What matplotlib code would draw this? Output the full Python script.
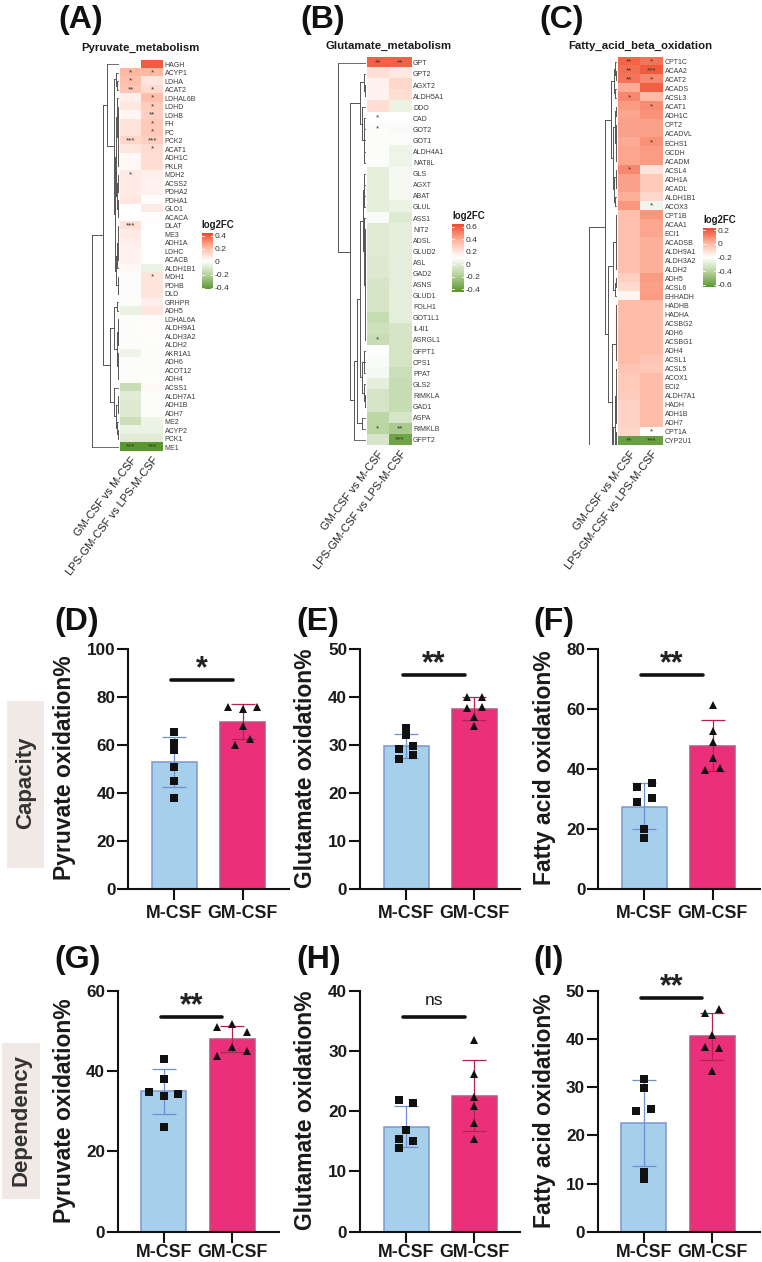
import matplotlib
matplotlib.use("Agg")
import matplotlib.pyplot as plt
from matplotlib.colors import LinearSegmentedColormap
from matplotlib.transforms import ScaledTranslation
import numpy as np

plt.rcParams['font.family'] = ['Liberation Sans', 'DejaVu Sans']

W, H = 762, 1262

# heatmap columns
contrasts = ["GM-CSF vs M-CSF", "LPS-GM-CSF vs LPS-M-CSF"]

# pyruvate metabolism
genes_a = ["HAGH", "ACYP1", "LDHA", "ACAT2", "LDHAL6B", "LDHD", "LDHB", "FH", "PC", "PCK2", "ACAT1", "ADH1C",
           "PKLR", "MDH2", "ACSS2", "PDHA2", "PDHA1", "GLO1", "ACACA", "DLAT", "ME3", "ADH1A", "LDHC", "ACACB",
           "ALDH1B1", "MDH1", "PDHB", "DLD", "GRHPR", "ADH5", "LDHAL6A", "ALDH9A1", "ALDH3A2", "ALDH2", "AKR1A1",
           "ADH6", "ACOT12", "ADH4", "ACSS1", "ALDH7A1", "ADH1B", "ADH7", "ME2", "ACYP2", "PCK1", "ME1"]
lfc_a1 = [0.0, 0.22, 0.2, 0.18, 0.06, 0.08, 0.04, 0.09, 0.09, 0.13, 0.08, 0.03,
          0.03, 0.07, 0.07, 0.07, 0.08, 0.01, 0.01, 0.1, 0.07, 0.06, 0.05, 0.05,
          0.03, 0.0, 0.0, 0.0, 0.0, -0.05, 0.0, 0.0, 0.0, 0.0, -0.04,
          0.0, 0.0, 0.0, -0.15, -0.08, -0.09, -0.09, -0.14, -0.05, -0.08, -0.42]
lfc_a2 = [0.4, 0.22, 0.08, 0.12, 0.2, 0.16, 0.15, 0.17, 0.17, 0.15, 0.12, 0.11,
          0.11, 0.06, 0.05, 0.05, 0.02, 0.07, 0.02, 0.01, 0.01, 0.01, 0.01, 0.01,
          -0.05, 0.09, 0.09, 0.09, 0.06, 0.08, 0.02, 0.015, 0.015, 0.0, 0.0,
          0.0, 0.0, 0.005, 0.03, 0.0, 0.0, 0.0, -0.04, -0.05, -0.08, -0.42]
stars_a1 = {"ACYP1": "*", "LDHA": "*", "ACAT2": "**", "PCK2": "***", "MDH2": "*", "DLAT": "***", "ME1": "***"}
stars_a2 = {"ACYP1": "*", "ACAT2": "*", "LDHAL6B": "*", "LDHD": "*", "LDHB": "**", "FH": "*", "PC": "*",
            "PCK2": "***", "ACAT1": "*", "MDH1": "*", "ME1": "***"}

# glutamate metabolism
genes_b = ["GPT", "GPT2", "AGXT2", "ALDH5A1", "DDO", "CAD", "GOT2", "GOT1", "ALDH4A1", "NAT8L", "GLS", "AGXT",
           "ABAT", "GLUL", "ASS1", "NIT2", "ADSL", "GLUD2", "ASL", "GAD2", "ASNS", "GLUD1", "FOLH1", "GOT1L1",
           "IL4I1", "ASRGL1", "GFPT1", "CPS1", "PPAT", "GLS2", "RIMKLA", "GAD1", "ASPA", "RIMKLB", "GFPT2"]
lfc_b1 = [0.58, 0.22, 0.15, 0.15, 0.22, 0.1, 0.09, 0.09, 0.09, 0.09, 0.0, 0.0,
          0.0, 0.0, 0.08, -0.02, -0.02, -0.02, -0.03, -0.03, -0.05, -0.06, -0.06, -0.11,
          -0.08, -0.1, 0.1, 0.08, 0.07, 0.0, -0.05, -0.05, -0.14, -0.15, -0.05]
lfc_b2 = [0.58, 0.18, 0.25, 0.22, 0.03, 0.1, 0.08, 0.09, 0.04, 0.04, 0.07, 0.06,
          0.06, 0.03, -0.02, 0.0, 0.0, 0.0, 0.0, 0.0, 0.0, 0.0, 0.0, 0.0,
          -0.05, -0.06, -0.06, -0.06, -0.09, -0.11, -0.11, -0.11, -0.05, -0.2, -0.38]
stars_b1 = {"GPT": "**", "CAD": "*", "GOT2": "*", "ASRGL1": "*", "RIMKLB": "*"}
stars_b2 = {"GPT": "**", "RIMKLB": "**", "GFPT2": "***"}

# fatty acid beta oxidation
genes_c = ["CPT1C", "ACAA2", "ACAT2", "ACADS", "ACSL3", "ACAT1", "ADH1C", "CPT2", "ACADVL", "ECHS1", "GCDH",
           "ACADM", "ACSL4", "ADH1A", "ACADL", "ALDH1B1", "ACOX3", "CPT1B", "ACAA1", "ECI1", "ACADSB", "ALDH9A1",
           "ALDH3A2", "ALDH2", "ADH5", "ACSL6", "EHHADH", "HADHB", "HADHA", "ACSBG2", "ADH6", "ACSBG1", "ADH4",
           "ACSL1", "ACSL5", "ACOX1", "ECI2", "ALDH7A1", "HADH", "ADH1B", "ADH7", "CPT1A", "CYP2U1"]
lfc_c1 = [0.18, 0.16, 0.15, 0.04, 0.11, 0.07, 0.05, 0.06, 0.06, 0.04, 0.05,
          0.05, 0.11, 0.06, 0.06, 0.03, 0.08, -0.01, -0.01, -0.01, -0.01, -0.01,
          -0.01, -0.01, -0.06, -0.09, -0.17, 0.0, 0.0, 0.0, 0.0, 0.0, 0.0,
          0.0, -0.03, -0.04, -0.04, -0.05, -0.07, -0.07, -0.07, -0.08, -0.6]
lfc_c2 = [0.15, 0.2, 0.11, 0.19, 0.01, 0.1, 0.09, 0.06, 0.06, 0.09, 0.07,
          0.07, -0.12, -0.04, -0.04, -0.08, -0.24, 0.08, 0.05, 0.05, 0.03, 0.03,
          0.03, 0.03, 0.07, 0.06, 0.07, 0.0, 0.0, 0.0, 0.0, 0.0, 0.0,
          -0.03, -0.04, 0.0, 0.0, 0.0, 0.0, 0.0, 0.0, -0.2, -0.6]
stars_c1 = {"CPT1C": "**", "ACAA2": "**", "ACAT2": "**", "ACSL3": "*", "ACSL4": "*", "CYP2U1": "**"}
stars_c2 = {"CPT1C": "*", "ACAA2": "***", "ACAT2": "*", "ACAT1": "*", "ECHS1": "*", "ACOX3": "*", "CPT1A": "*",
            "CYP2U1": "***"}

# cluster trees: (merge height, child, child, ...), an int child is that many leaves
tree_a = (1.0,
          (0.6,
           (0.46, 1,
            (0.2,
             (0.12, 1, (0.06, 2)),
             (0.15,
              (0.1, (0.07, 1, (0.05, 8)), (0.06, (0.04, 3), (0.04, 3))),
              (0.12, (0.07, (0.04, 5), 1), (0.05, 3))))),
           (0.33,
            (0.18, (0.08, 2), (0.08, (0.05, 4), (0.05, 4))),
            (0.17, 1, (0.1, (0.05, 3), (0.07, 1, (0.03, 2)))))),
          1)
tree_b = (1.0, 1,
          (0.56,
           (0.2, (0.07, 1, (0.04, 2)), (0.12, 1, (0.05, 5))),
           (0.42,
            (0.3,
             (0.21,
              (0.1, (0.05, 4), (0.07, 1, (0.04, 11))),
              (0.12, (0.07, 3), (0.07, 1, (0.03, 2)))),
             (0.12, 2)),
            1)))
tree_c = (1.0,
          (0.44,
           (0.23,
            (0.12, (0.07, 1, (0.04, 2)), (0.08, 2)),
            (0.16, (0.08, (0.05, 2), (0.04, 5)), (0.13, (0.06, 1, (0.04, 2)), (0.08, 2)))),
           (0.32,
            (0.14, (0.05, 7), (0.1, (0.05, 2), 1)),
            (0.18, (0.06, (0.03, 6), 1), (0.17, (0.09, (0.04, 7), (0.05, 7)), 1)))),
          1)

# bar panels: mean, lower and upper error bar end, replicates and their swarm slots
groups = ["M-CSF", "GM-CSF"]

means_d = [53, 69.7]
low_d = [42.7, 62.7]
high_d = [63.5, 77]
pts_d1 = [65.5, 61, 58, 51, 45, 38]
pts_d2 = [76, 76, 75, 68, 62.5, 60]
slots_d1 = [0, 0, 0, 0, 0, 0]
slots_d2 = [-2, 2, 0, 0, 1, -1]

means_e = [29.8, 37.6]
low_e = [27.3, 35.3]
high_e = [32.3, 40]
pts_e1 = [33.5, 32, 29.7, 29.1, 28, 27]
pts_e2 = [39.9, 40, 37.8, 38, 35.9, 34]
slots_e1 = [0, 0, 1, -1, 1, -1]
slots_e2 = [-1, 1, -1, 1, 0, 0]

means_f = [27.5, 47.8]
low_f = [20, 39.5]
high_f = [35.3, 56.3]
pts_f1 = [35.5, 33.9, 30.4, 28.9, 20, 17]
pts_f2 = [61.3, 52.8, 48.9, 43.6, 40.2, 39.7]
slots_f1 = [1, -1, 1, -1, 0, 0]
slots_f2 = [0, 0, 0, 0, 1, -1]

means_g = [35, 48]
low_g = [29.4, 44.7]
high_g = [40.6, 51.3]
pts_g1 = [42.9, 37.9, 34.9, 34.4, 33.9, 26]
pts_g2 = [51.6, 50.9, 49.8, 46.1, 44.9, 43.8]
slots_g1 = [0, 0, -2, 2, 0, 0]
slots_g2 = [0, -2, 2, 0, 2, -2]

means_h = [17.4, 22.5]
low_h = [14, 16.7]
high_h = [20.8, 28.5]
pts_h1 = [21.9, 21.3, 16.8, 15.4, 15, 13.9]
pts_h2 = [31.8, 26.2, 22.4, 20.9, 18, 15.4]
slots_h1 = [-1, 1, 0, -1, 1, -1]
slots_h2 = [0, 0, 0, 0, 0, 0]

means_i = [22.5, 40.5]
low_i = [13.6, 35.7]
high_i = [31.5, 45.3]
pts_i1 = [31.7, 29.9, 25.4, 25, 12.4, 11]
pts_i2 = [46.1, 45.4, 40.9, 38.1, 38.4, 33.3]
slots_i1 = [0, 0, 1, -1, 0, 0]
slots_i2 = [1, -1, 0, 1, -1, 0]

GREEN = "#5a962f"
RED = "#ee4a2c"
BLUE = "#a6cfec"
BLUE_EDGE = "#7b97d0"
BLUE_ERR = "#6f8fd0"
PINK = "#ec2f7a"
PINK_EDGE = "#b8557f"
PINK_ERR = "#b3234f"
TEXT = "#1a1a1a"

cmap = LinearSegmentedColormap.from_list(
    "lfc", [(0, GREEN), (0.25, "#b6d29c"), (0.5, "#ffffff"), (0.75, "#ffb7a1"), (1, RED)])

fig = plt.figure(figsize=(W / 100, H / 100), dpi=100)


def px_axes(left, top, right, bottom):
    return fig.add_axes([left / W, 1 - bottom / H, (right - left) / W, (bottom - top) / H])


def px_text(x, y, s, **kw):
    kw.setdefault("ha", "center")
    kw.setdefault("va", "center")
    return fig.text(x / W, 1 - y / H, s, **kw)


def shift_labels(labels, dx_px):
    # nudge tick labels sideways by some pixels
    offset = ScaledTranslation(dx_px / 100, 0, fig.dpi_scale_trans)
    for lab in labels:
        lab.set_transform(lab.get_transform() + offset)


def draw_tree(ax, node, next_leaf):
    # returns the y of the node and the height its stem starts from
    children = node[1:]
    ys = []
    for child in children:
        if isinstance(child, tuple):
            y, h = draw_tree(ax, child, next_leaf)
        else:
            for _ in range(child):
                ys.append(next_leaf[0])
                ax.plot([0, node[0]], [next_leaf[0]] * 2, color="#555555", lw=0.6, solid_capstyle="butt")
                next_leaf[0] += 1
            continue
        ys.append(y)
        ax.plot([h, node[0]], [y, y], color="#555555", lw=0.7, solid_capstyle="butt")
    ax.plot([node[0], node[0]], [ys[0], ys[-1]], color="#555555", lw=0.7)
    return (ys[0] + ys[-1]) / 2, node[0]


def heatmap_panel(box, dendro_left, title, title_pos, genes, col1, col2, stars1, stars2, tree,
                  vmin, vmax, cbar_box, cbar_ticks, legend_pos):
    left, top, right, bottom = box
    ax = px_axes(left, top, right, bottom)
    data = np.array([col1, col2]).T
    im = ax.imshow(data, cmap=cmap, vmin=vmin, vmax=vmax, aspect="auto", interpolation="nearest")
    for sp in ax.spines.values():
        sp.set_visible(False)
    ax.set_yticks(range(len(genes)))
    ax.yaxis.tick_right()
    ax.set_yticklabels(genes, fontsize=5.0, color="#3a3a3a")
    ax.set_xticks([0, 1])
    ax.set_xticklabels(contrasts, rotation=53, ha="right", rotation_mode="anchor", fontsize=8, color="#222222")
    shift_labels(ax.get_xticklabels(), -3)
    ax.tick_params(length=0, axis="y", pad=1.5)
    ax.tick_params(length=0, axis="x", pad=3)
    for col, stars in enumerate([stars1, stars2]):
        for gene, mark in stars.items():
            ax.text(col, genes.index(gene), mark, ha="center", va="center", fontsize=5.8, color="#333333")
    px_text(title_pos[0], title_pos[1], title, fontsize=8.2, fontweight="bold", color=TEXT)

    dax = px_axes(dendro_left, top, left - 1, bottom)
    draw_tree(dax, tree, [0])
    dax.set_xlim(1.0, 0)
    dax.set_ylim(len(genes) - 0.5, -0.5)
    dax.axis("off")

    cax = px_axes(*cbar_box)
    cbar = fig.colorbar(im, cax=cax)
    cbar.outline.set_visible(False)
    cbar.set_ticks(cbar_ticks)
    cbar.set_ticklabels([f"{t:g}" for t in cbar_ticks])
    cax.tick_params(length=0, labelsize=6.1, pad=1.5, labelcolor="#333333")
    for t in cbar_ticks:
        cax.plot([0, 0.18], [t, t], color="white", lw=0.6, transform=cax.get_yaxis_transform())
        cax.plot([0.82, 1], [t, t], color="white", lw=0.6, transform=cax.get_yaxis_transform())
    px_text(legend_pos[0], legend_pos[1], "log2FC", fontsize=6.9, fontweight="bold", color=TEXT)


heatmap_panel((120, 60, 162.7, 451.3), 92.3, "Pyruvate_metabolism", (140.8, 48), genes_a, lfc_a1, lfc_a2,
              stars_a1, stars_a2, tree_a, -0.42, 0.44, (202, 233, 213, 289),
              [-0.4, -0.2, 0, 0.2, 0.4], (218, 225))
heatmap_panel((366.7, 57.3, 411, 445.3), 337.7, "Glutamate_metabolism", (388.8, 46), genes_b, lfc_b1, lfc_b2,
              stars_b1, stars_b2, tree_b, -0.44, 0.64, (451.7, 224, 464, 291.7),
              [-0.4, -0.2, 0, 0.2, 0.4, 0.6], (468.7, 216))
heatmap_panel((618.3, 57.3, 662.7, 445.3), 589.3, "Fatty_acid_beta_oxidation", (640.5, 46), genes_c, lfc_c1, lfc_c2,
              stars_c1, stars_c2, tree_c, -0.635, 0.235, (703, 228, 716, 287),
              [-0.6, -0.4, -0.2, 0, 0.2], (720, 220))

# spacing of the two bars in pixels, first bar centre from the y axis, bar width
BAR_STEP = 68.3
BAR_START = 46
BAR_WIDTH = 45 / BAR_STEP
SLOT = 7.3 / BAR_STEP


def bar_panel(box, ymax, yticks, ylabel, ylabel_x, means, low, high, pts1, pts2, slots1, slots2, sig, sig_y, xpad=4):
    left, top, right, bottom = box
    ax = px_axes(left, top, right, bottom)
    width = right - left
    ax.set_xlim(-BAR_START / BAR_STEP, (width - BAR_START) / BAR_STEP)
    ax.set_ylim(0, ymax)
    ax.bar([0, 1], means, width=BAR_WIDTH, color=[BLUE, PINK], edgecolor=[BLUE_EDGE, PINK_EDGE], linewidth=1.1, zorder=2)
    for i, err_color in enumerate([BLUE_ERR, PINK_ERR]):
        ax.errorbar(i, means[i], yerr=[[means[i] - low[i]], [high[i] - means[i]]], color=err_color, lw=0.9,
                    capsize=8.4, capthick=0.9, zorder=3)
    ax.plot(np.array(slots1) * SLOT, pts1, "s", color="#111111", ms=5.4, mew=0, zorder=4, clip_on=False)
    ax.plot(1 + np.array(slots2) * SLOT, pts2, "^", color="#111111", ms=5.6, mew=0, zorder=4, clip_on=False)

    ax.plot([-0.045, 0.86], [sig_y, sig_y], color="#111111", lw=2.6, solid_capstyle="round", zorder=5, clip_on=False)
    if sig == "ns":
        ax.annotate(sig, (0.405, sig_y), xytext=(0, 12), textcoords="offset points", ha="center", va="center",
                    fontsize=12.6, color=TEXT)
    else:
        ax.annotate(sig, (0.405, sig_y), xytext=(0, 7.6), textcoords="offset points", ha="center", va="center",
                    fontsize=22, fontweight="bold", color="#222222")

    for name in ["top", "right"]:
        ax.spines[name].set_visible(False)
    for name in ["left", "bottom"]:
        ax.spines[name].set_linewidth(1.5)
        ax.spines[name].set_color("#111111")
    ax.set_xticks([0, 1])
    ax.set_xticklabels(groups, fontsize=12.8, fontweight="bold", color=TEXT)
    shift_labels(ax.get_xticklabels(), 2.7)
    ax.set_yticks(yticks)
    ax.set_yticklabels([str(t) for t in yticks], fontsize=12.3, fontweight="bold", color=TEXT)
    ax.tick_params(length=7.7, width=1.5, color="#111111")
    ax.tick_params(axis="y", pad=1.5)
    ax.tick_params(axis="x", pad=xpad)
    px_text(ylabel_x, (top + bottom) / 2 - 1, ylabel, rotation=90, fontsize=16.5, fontweight="bold", color=TEXT)


bar_panel((128.3, 649, 289, 889), 100, [0, 20, 40, 60, 80, 100], "Pyruvate oxidation%", 65,
          means_d, low_d, high_d, pts_d1, pts_d2, slots_d1, slots_d2, "*", 87.2)
bar_panel((360, 649, 520, 889), 50, [0, 10, 20, 30, 40, 50], "Glutamate oxidation%", 306,
          means_e, low_e, high_e, pts_e1, pts_e2, slots_e1, slots_e2, "**", 44.6)
bar_panel((598.3, 649, 760, 889), 80, [0, 20, 40, 60, 80], "Fatty acid oxidation%", 545,
          means_f, low_f, high_f, pts_f1, pts_f2, slots_f1, slots_f2, "**", 71.3)
bar_panel((117.7, 990.7, 279, 1231.7), 60, [0, 20, 40, 60], "Pyruvate oxidation%", 65,
          means_g, low_g, high_g, pts_g1, pts_g2, slots_g1, slots_g2, "**", 53.4, xpad=1.5)
bar_panel((360, 990.7, 520, 1231.7), 40, [0, 10, 20, 30, 40], "Glutamate oxidation%", 306,
          means_h, low_h, high_h, pts_h1, pts_h2, slots_h1, slots_h2, "ns", 35.6, xpad=1.5)
bar_panel((597.7, 990.7, 760, 1231.7), 50, [0, 10, 20, 30, 40, 50], "Fatty acid oxidation%", 545,
          means_i, low_i, high_i, pts_i1, pts_i2, slots_i1, slots_i2, "**", 48.5, xpad=1.5)

# row tags on the far left
for box, label, x, y in [((6.7, 701, 44.3, 867.7), "Capacity", 26, 783),
                         ((1.7, 1043, 39.7, 1198.7), "Dependency", 20.7, 1120)]:
    tag = px_axes(*box)
    tag.set_facecolor("#f1e9e6")
    tag.set_xticks([])
    tag.set_yticks([])
    for sp in tag.spines.values():
        sp.set_visible(False)
    px_text(x, y, label, rotation=90, fontsize=16, fontweight="bold", color="#333333")

# panel letters
for letter, x, y in [("(A)", 80.5, 28), ("(B)", 322.5, 28), ("(C)", 561.5, 28),
                     ("(D)", 76.5, 630), ("(E)", 317.5, 630), ("(F)", 554, 630),
                     ("(G)", 77.5, 968), ("(H)", 318.5, 968), ("(I)", 549, 968)]:
    px_text(x, y, letter, fontsize=23, fontweight="bold", color="#111111", va="baseline")

fig.savefig("out.png", dpi=100)
